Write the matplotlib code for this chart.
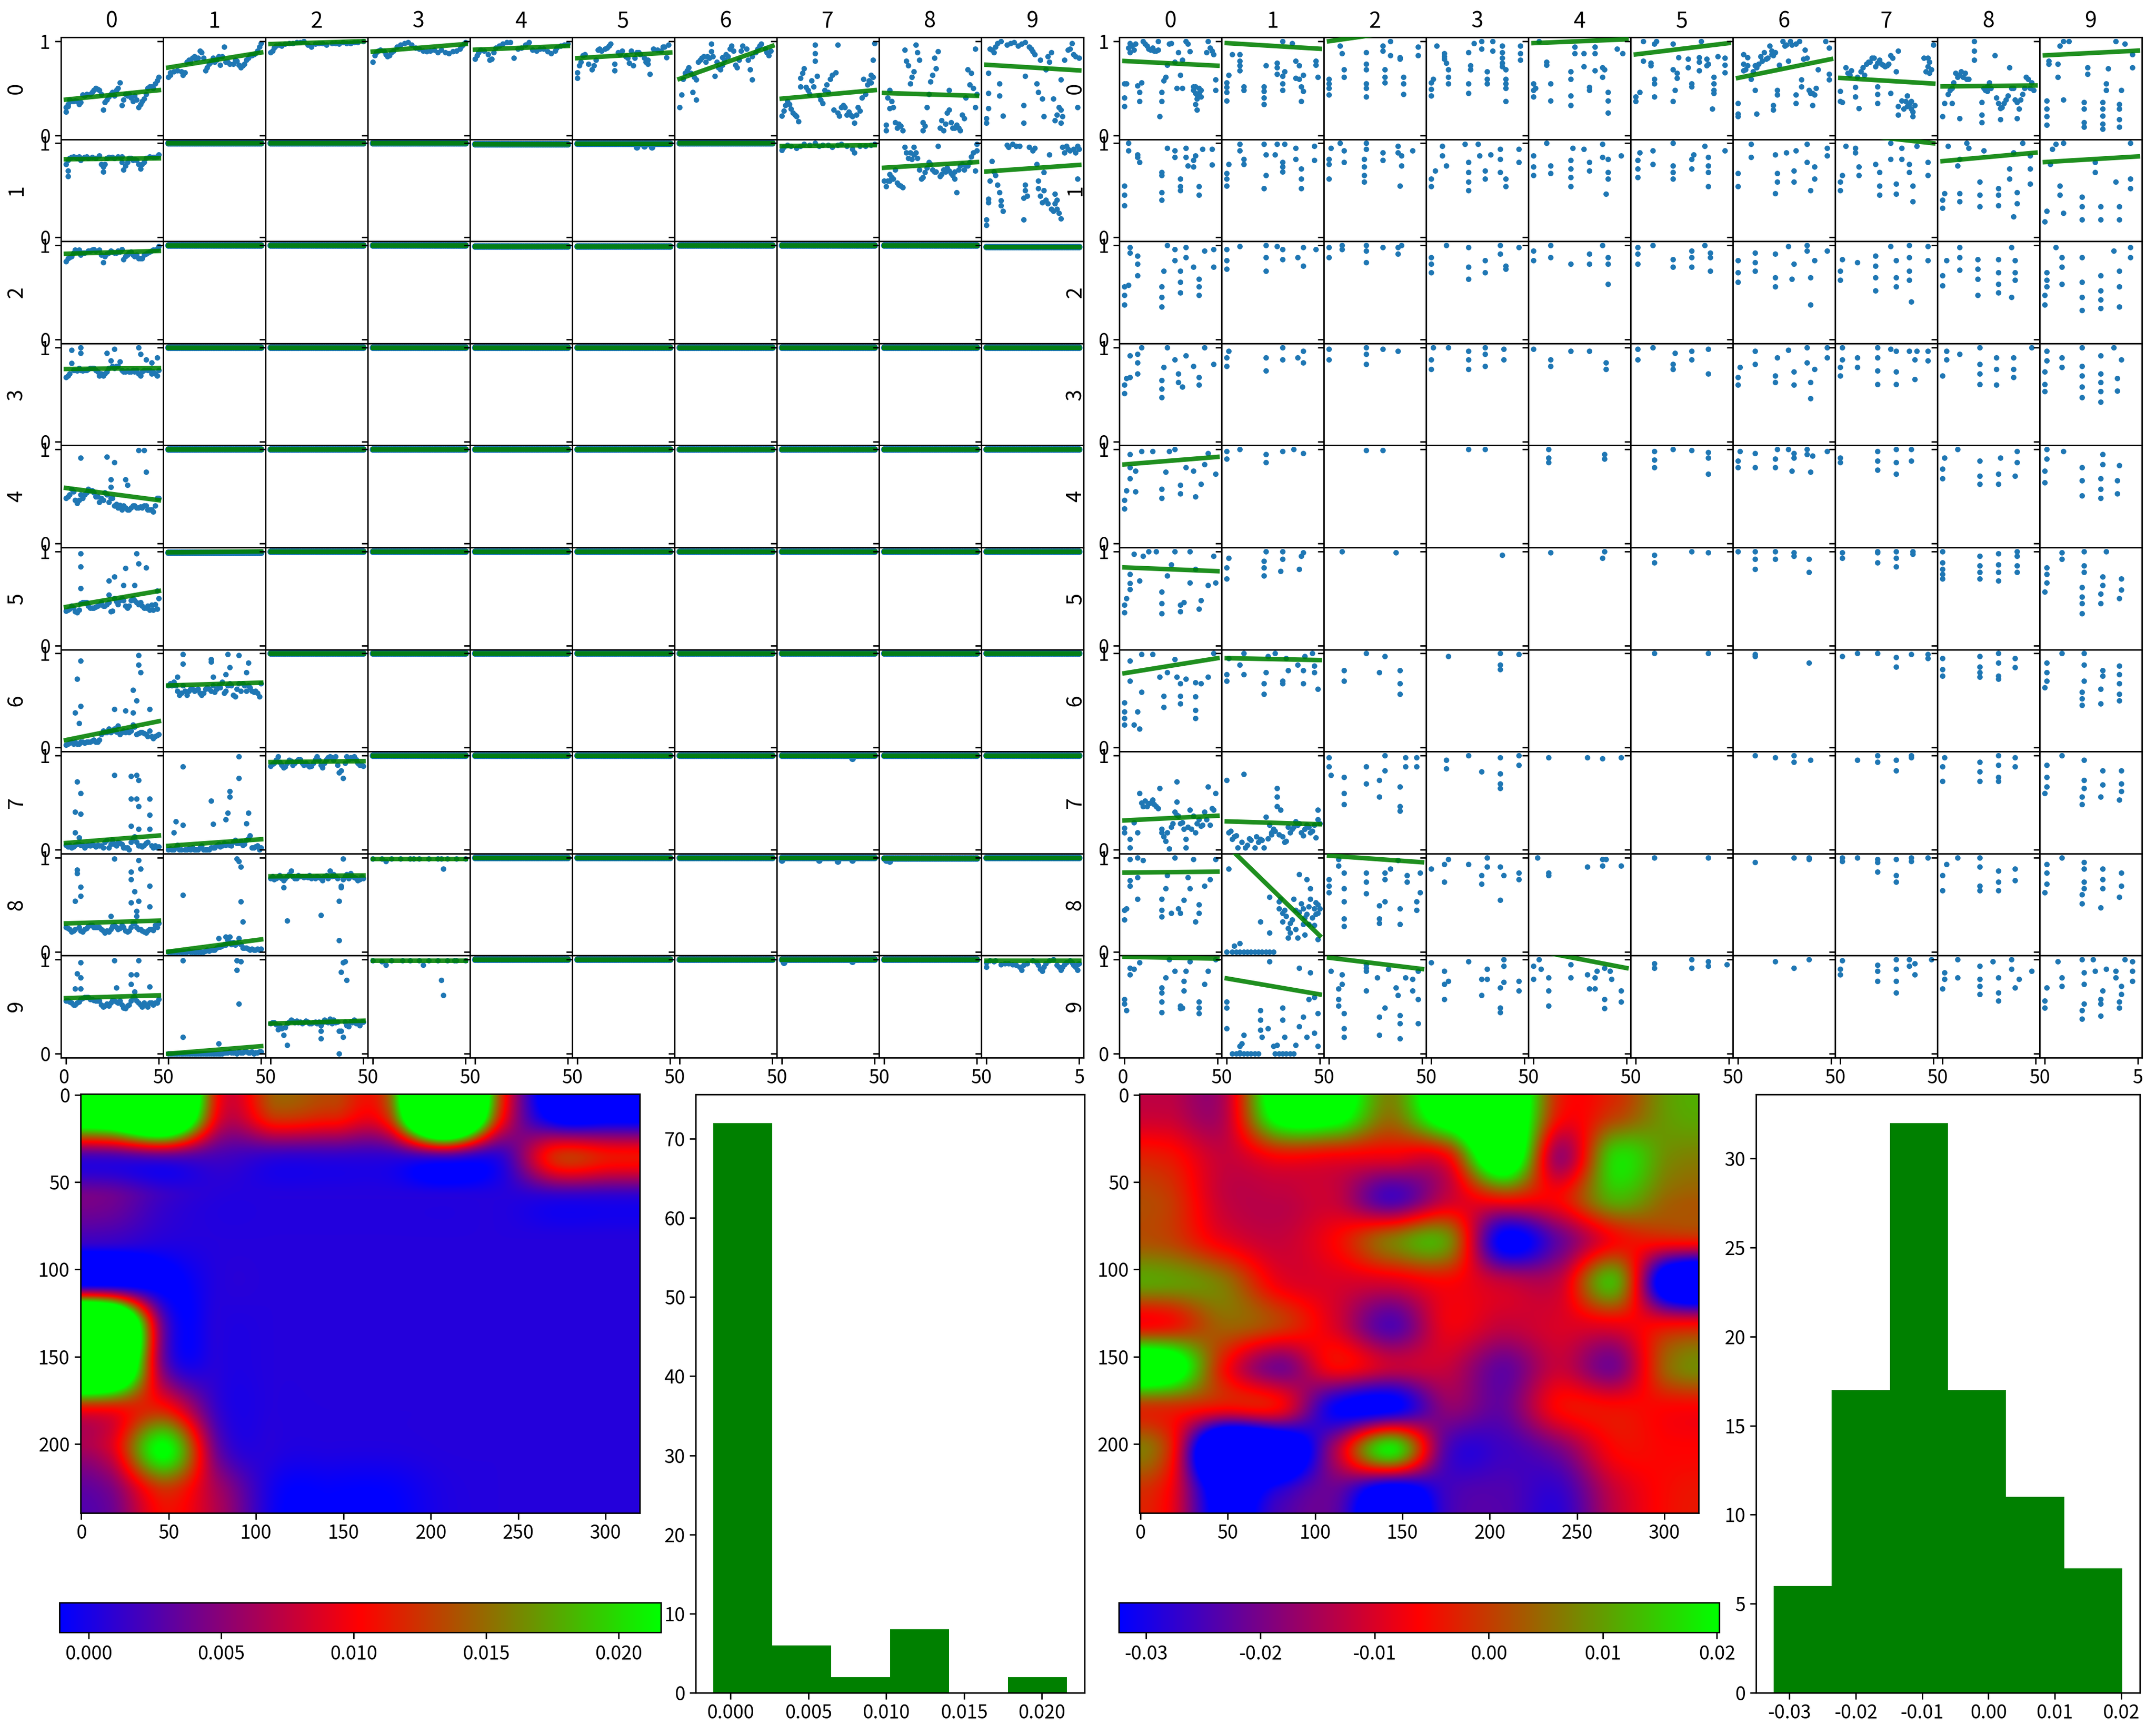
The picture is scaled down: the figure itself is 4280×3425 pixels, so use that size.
import numpy as np
import matplotlib
matplotlib.use('Agg')
import matplotlib.pyplot as plt
from matplotlib.transforms import ScaledTranslation

plt.rcParams['font.family'] = ['Noto Sans CJK JP', 'DejaVu Sans']

# scatter panels: flat x,y,x,y,... with y in percent
l00 = [0,25,0,30,1,33,3,36,5,37,8,35,9,43,13,44,17,49,19,44,20,27,21,35,24,44,27,48,29,56,30,32,33,42,37,42,40,33,42,39,45,52,48,55,50,62,
       1,31,2,38,4,36,6,36,7,33,10,42,11,44,14,46,15,48,16,50,18,48,22,38,23,41,25,46,26,42,28,50,31,38,32,44,34,44,35,40,36,36,38,38,39,30,41,36,43,44,44,50,46,52,47,50,49,58]
l01 = [0,62,1,67,5,69,9,67,11,80,15,81,18,88,20,69,22,76,26,80,30,94,28,75,32,78,37,79,40,74,43,82,47,87,50,98,
       1,64,3,68,7,68,8,64,10,78,12,78,13,82,14,84,16,82,17,90,19,82,21,72,23,78,24,82,25,78,27,84,29,84,31,78,33,76,35,76,36,80,38,75,39,72,41,76,42,80,44,85,45,85,46,86,48,90,49,94]
l02 = [0,88,2,93,8,97,14,99,18,100,22,94,28,98,33,98,41,98,50,100,1,90,3,95,5,96,6,95,10,98,12,98,16,99,20,96,24,97,26,98,30,96,35,98,37,97,39,99,43,98,45,99,47,99]
l03 = [0,78,1,85,4,91,9,85,13,94,19,99,23,93,29,89,37,91,41,87,47,92,50,99,2,88,3,90,6,90,7,86,8,84,10,88,11,90,15,96,17,98,21,96,25,92,27,90,31,90,33,91,35,88,39,88,43,89,45,90,48,95,49,97]
l04 = [0,81,3,91,9,81,13,95,19,99,21,82,29,99,31,91,41,87,46,95,50,97,1,85,2,88,5,90,7,86,8,80,10,88,11,93,15,97,17,99,23,92,25,93,27,96,33,90,35,92,37,92,39,89,43,90,44,93,48,96]
l05 = [0,61,0,67,1,74,3,85,8,70,9,74,11,91,15,92,18,97,20,69,20,76,24,90,28,77,29,90,30,74,33,88,38,76,39,65,38,80,43,91,49,96,48,83,
       2,78,4,86,6,76,10,80,12,92,13,90,16,93,17,95,22,88,23,86,26,84,27,82,31,82,32,88,34,86,36,82,37,78,41,92,45,90,46,94,47,94]
l06 = [0,30,1,43,2,60,4,69,7,46,9,38,9,59,12,82,17,97,17,89,23,83,19,63,23,75,28,95,30,75,34,95,38,70,39,59,39,84,43,95,48,85,
       3,66,5,72,6,66,8,62,10,78,11,80,13,84,14,78,15,84,16,82,18,84,20,78,21,72,22,70,24,80,25,86,26,84,27,92,29,90,31,72,32,80,33,90,36,92,37,80,41,88,42,92,44,97,46,92,47,88,49,90]
l07 = [0,21,3,36,4,33,8,20,9,15,12,71,10,61,13,51,18,96,18,87,18,79,19,63,22,34,24,54,30,96,29,67,28,27,31,21,34,30,38,20,39,13,41,30,44,60,46,54,49,80,50,98,48,64,
       1,26,2,32,5,28,6,24,7,22,10,52,11,66,14,48,15,44,16,58,17,52,20,42,21,38,23,48,25,46,26,60,27,64,30,24,32,30,33,32,35,22,36,25,37,22,40,22,42,26,43,40,45,44,47,58,48,56,49,62]
l08 = [1,5,1,11,8,12,10,5,3,29,3,48,11,91,17,96,12,79,16,68,14,55,21,5,21,14,23,30,25,57,29,89,28,71,31,16,32,5,35,27,35,48,39,11,41,5,43,18,45,70,46,54,49,30,49,92,
       2,40,4,36,5,30,6,14,7,8,9,10,13,74,15,62,18,88,19,80,22,10,24,44,26,64,27,82,30,8,33,12,34,24,36,14,37,8,38,8,40,8,42,22,44,40,47,66,48,50,50,44]
l09 = [0,13,0,18,1,29,1,45,1,66,3,91,9,21,7,55,7,42,11,96,17,95,25,89,20,13,20,32,21,63,27,55,28,46,31,20,30,39,33,84,40,13,36,39,40,27,40,59,44,91,49,30,48,84,
       2,92,4,88,5,94,6,98,8,100,13,98,15,99,19,97,21,99,23,94,24,92,26,86,29,80,32,70,34,78,35,88,37,16,38,22,39,30,41,20,42,80,45,92,46,98,47,86,50,82]
l10 = [0,78,1,71,1,65,3,85,7,86,12,84,18,87,20,70,21,78,25,85,30,86,31,72,33,80,37,83,40,73,42,80,47,85,50,88,
       1,82,2,84,4,86,5,85,6,84,8,82,9,84,10,85,11,86,14,85,16,84,19,78,20,75,22,84,23,85,26,84,28,86,29,85,30,80,32,76,34,84,35,84,36,82,38,82,39,78,41,78,43,84,45,86,48,85,49,86]
l17 = [0,93,1,96,3,98,8,95,12,99,18,100,22,98,27,96,32,99,38,94,39,90,45,97,50,99,5,97,10,97,15,98,20,97,25,98,30,98,35,97,42,97,48,98]
l18 = [1,54,0,60,8,56,10,53,3,67,6,72,11,96,16,96,15,83,14,90,20,62,22,69,25,78,29,97,31,67,35,71,38,62,39,48,44,76,49,71,48,90,50,99,
       2,60,3,60,4,64,5,62,7,58,9,55,12,90,13,84,16,88,17,90,18,84,19,72,21,64,23,74,24,80,26,72,27,70,28,70,30,65,32,72,33,70,34,74,36,68,37,66,38,70,40,72,41,76,42,78,43,72,45,76,46,80,47,86,50,92]
l19 = [0,13,0,19,1,37,9,28,8,39,6,56,3,81,11,98,16,97,20,19,20,42,21,56,25,92,30,37,28,60,31,69,38,40,37,46,40,20,34,88,44,94,49,62,49,97,
       1,41,2,60,4,70,5,66,7,48,8,34,12,96,14,99,18,97,21,50,22,44,23,96,26,95,27,78,28,52,29,44,31,50,32,40,33,36,35,30,36,28,37,36,38,30,39,26,41,96,42,90,43,97,45,92,47,94,48,90,50,94]
l20 = [0,83,1,86,3,88,7,95,9,92,15,96,20,82,21,88,25,93,30,96,31,85,35,93,40,86,42,90,47,95,50,99,
       2,87,4,92,5,95,6,93,8,90,10,92,12,94,13,94,14,95,16,94,18,95,19,90,22,91,23,92,24,94,26,92,27,92,28,94,29,93,32,88,33,90,34,92,36,90,37,88,38,90,39,86,41,86,43,91,44,92,45,93,46,94,48,95,49,96]
l30 = [3,97,8,100,8,94,22,94,26,98,24,86,39,100,40,93,43,87,46,84,49,89,0,68,3,83,6,75,9,75,13,78,20,70,29,85,32,74,37,74,40,70,47,74,
       1,70,2,72,4,76,5,76,7,78,8,76,10,76,11,76,12,77,14,78,15,78,16,76,17,74,18,70,19,72,21,72,22,74,23,78,25,80,26,78,27,80,28,80,30,76,31,74,33,75,34,74,35,74,36,76,38,76,39,72,41,74,42,76,44,76,45,76,46,72,48,72,49,70,50,76]
l40 = [8,91,22,92,26,86,39,99,42,99,43,76,24,68,24,60,32,68,33,62,0,48,3,58,6,43,9,48,12,58,20,46,25,48,29,41,34,36,40,39,45,36,49,48,
       1,50,2,52,4,55,5,46,7,46,8,52,10,52,11,54,13,56,14,56,15,54,16,50,17,50,18,44,19,48,21,54,22,52,23,44,24,48,26,40,27,42,28,38,30,36,31,40,32,38,33,36,35,38,36,40,37,40,38,38,39,38,41,38,42,40,43,40,44,36,46,36,47,34,48,40,50,48]
l50 = [8,98,8,84,8,61,23,69,26,73,32,82,38,98,39,87,43,83,23,54,31,64,37,64,0,37,6,35,9,46,14,40,20,42,25,37,29,48,34,42,40,46,46,43,49,39,49,58,
       1,38,2,39,3,42,4,40,5,36,7,38,8,45,10,46,11,46,12,42,13,40,15,40,16,41,17,42,18,43,19,46,21,42,22,44,23,46,24,36,26,50,27,47,28,44,30,50,31,48,32,42,33,40,35,48,36,50,37,48,38,46,39,44,41,42,42,40,43,40,44,42,45,38,47,38,48,44,50,50]
l60 = [8,92,6,73,8,44,5,37,7,26,39,98,39,88,40,80,36,61,38,50,26,41,32,39,36,37,45,41,0,3,3,6,9,6,17,6,21,16,28,23,33,18,40,16,45,18,49,13,
       1,4,2,5,4,4,5,6,6,4,7,4,8,6,10,5,11,6,12,6,13,6,14,7,15,8,16,6,18,8,19,14,20,18,22,16,23,20,24,16,25,18,26,20,27,17,29,14,30,16,31,18,32,16,34,16,35,18,36,24,37,22,38,14,39,15,41,16,42,15,43,14,44,12,46,12,47,10,48,12,50,14]
l61 = [8,99,8,89,23,94,23,91,32,99,38,98,43,90,31,78,33,85,42,80,24,75,5,75,0,66,6,56,10,56,15,61,25,59,35,56,40,68,46,59,49,54,50,68,
       1,68,2,66,3,70,4,66,5,60,7,58,8,66,9,60,11,60,12,62,13,62,14,60,16,62,17,58,18,56,19,58,20,62,21,64,22,62,23,60,24,66,26,62,27,66,28,64,29,70,30,58,31,60,32,66,33,68,34,66,36,54,37,62,38,68,39,60,41,66,42,60,43,66,44,64,45,60,47,60,48,58]
l70 = [6,72,8,60,5,40,8,38,5,18,7,13,26,79,35,78,38,79,39,74,35,54,38,54,39,46,45,54,45,37,35,25,45,22,39,22,0,5,3,2,9,5,17,5,23,2,29,7,34,0,42,5,49,2,
       1,3,2,5,4,3,5,5,6,6,7,6,8,5,10,2,11,4,12,5,13,4,14,6,15,5,16,3,18,4,19,4,20,2,21,8,22,10,24,6,25,10,26,6,27,4,28,8,30,6,31,2,32,2,33,2,35,8,36,12,37,14,38,8,39,4,40,4,41,3,43,7,44,8,46,4,47,2,48,4,50,3]
l71 = [8,88,38,99,38,76,33,62,33,56,23,52,32,39,31,32,43,39,42,28,24,27,4,30,3,18,8,26,0,0,7,0,14,0,20,0,25,2,31,5,38,7,44,15,50,2,
       1,1,2,0,3,0,4,2,5,5,6,0,9,0,10,0,11,1,12,0,13,2,15,0,16,0,17,2,18,4,19,0,21,0,22,0,23,2,24,2,26,4,27,6,28,3,29,4,30,7,32,6,33,5,34,4,35,8,36,10,37,7,39,9,40,5,41,6,42,10,43,12,45,2,46,2,47,3,48,4,49,0]
l72 = [0,89,4,99,7,87,15,96,22,89,25,99,28,87,32,99,35,99,39,76,41,99,45,99,50,89,
       1,91,2,92,3,95,5,93,6,90,8,88,9,92,10,95,11,94,12,90,13,92,14,94,16,96,17,92,18,90,19,92,20,90,21,88,23,92,24,96,26,95,27,90,29,92,30,96,31,98,33,98,34,95,36,90,37,82,38,84,40,92,42,96,43,98,44,97,46,96,47,92,48,90,49,90]
l80 = [6,87,6,83,8,69,8,59,5,54,26,99,39,97,35,85,35,77,40,88,37,64,39,54,35,52,45,70,45,48,24,38,38,43,38,38,0,26,3,21,9,21,16,26,23,21,33,21,42,21,49,26,
       1,25,2,24,4,22,5,24,7,26,8,22,10,24,11,25,12,27,13,28,14,28,15,26,17,26,18,26,19,24,20,22,21,20,22,22,24,24,25,27,26,28,27,26,28,24,29,25,30,28,31,26,32,22,34,22,35,26,36,30,37,30,38,26,39,24,40,24,41,22,43,20,44,22,45,24,46,24,47,23,48,28,50,30]
l81 = [37,99,38,96,39,90,8,60,39,53,40,32,27,14,31,16,33,16,0,0,11,1,23,2,28,5,37,9,42,4,50,3,
       1,0,2,0,3,0,4,0,5,0,6,0,7,0,8,0,9,0,10,0,12,0,13,0,14,0,15,0,16,0,17,0,18,0,19,0,20,1,21,2,22,1,24,2,25,2,26,4,27,5,29,6,30,8,31,7,32,12,33,10,34,8,35,10,36,7,38,14,39,8,40,4,41,4,43,3,44,2,45,3,46,2,47,2,48,3,49,2]
l82 = [0,78,7,68,9,33,11,86,27,39,37,54,37,12,38,68,39,99,14,78,22,78,32,86,43,83,50,78,
       1,80,2,77,3,78,4,79,5,81,6,78,7,76,8,78,9,80,10,82,12,80,13,78,15,81,16,80,17,80,18,79,19,80,20,79,21,81,23,79,24,78,25,80,26,79,27,78,28,76,29,80,30,81,31,78,33,80,34,82,35,80,36,78,38,70,39,77,40,80,41,82,42,78,44,80,45,79,46,78,47,76,48,77,49,80]
l83 = [7,96,38,88,22,99,37,99,0,99,5,99,10,99,15,99,20,99,25,99,30,99,35,99,40,99,45,99,50,99]
l90 = [8,97,6,85,8,81,5,69,8,69,26,99,27,70,39,99,35,84,38,84,35,74,45,71,37,66,0,56,3,54,9,59,16,56,23,51,29,56,33,51,42,54,49,54,
       1,56,2,55,4,52,5,52,6,54,7,55,8,58,10,60,11,60,12,60,13,58,14,58,15,57,17,56,18,56,19,52,20,50,21,51,22,53,24,54,25,57,26,56,27,55,28,54,30,52,31,49,32,48,34,52,35,56,36,60,37,60,38,56,39,54,40,52,41,50,43,52,44,50,45,54,46,54,47,52,48,54,50,58]
l91 = [8,99,37,99,39,98,37,89,38,53,8,18,27,11,0,0,11,0,25,0,37,0,46,0,50,2,
       1,0,2,0,3,0,4,0,5,0,6,0,7,0,8,0,9,0,10,0,12,0,13,0,14,0,15,0,16,0,17,0,18,0,19,0,20,0,21,0,22,0,23,0,24,0,26,0,27,0,28,0,29,0,30,1,31,1,32,1,33,2,34,1,35,1,36,1,38,2,39,1,40,1,41,2,42,2,43,1,44,1,45,2,47,1,48,1,49,2]
l92 = [39,97,40,98,38,87,41,78,9,9,6,27,27,24,27,16,37,0,38,24,0,32,15,33,22,32,32,37,42,29,50,34,
       1,33,2,33,3,31,4,26,5,30,7,20,8,28,9,32,10,34,11,36,12,35,13,33,14,35,16,34,17,32,18,33,19,35,20,34,21,32,23,33,24,34,25,32,26,34,27,30,28,33,29,36,30,34,31,33,33,32,34,36,35,33,36,34,37,24,39,18,40,34,41,30,43,34,44,33,45,36,46,32,47,33,48,30,49,34]
l93 = [7,94,27,94,37,78,38,62,16,99,44,99,0,99,5,98,10,99,20,99,25,99,30,99,35,99,40,99,45,99,50,99]
l99 = [0,92,0,97,5,99,8,95,14,95,19,89,22,96,25,99,30,88,32,96,36,100,40,89,43,97,49,89,49,95,2,99,4,98,10,96,12,96,16,94,18,92,20,94,27,97,28,94,29,90,31,92,34,99,38,94,39,92,41,92,42,95,45,99,46,97,47,94,48,92,50,96]

r00 = [0,31,0,40,0,55,1,55,2,93,3,98,3,88,5,91,7,53,8,46,8,36,9,56,10,100,11,97,14,91,16,90,18,91,18,100,19,20,20,46,20,36,21,58,22,62,24,97,25,98,23,75,27,78,31,80,30,64,31,50,28,50,29,88,34,97,35,89,37,48,39,39,38,45,40,50,41,41,39,27,44,88,45,100,48,86,49,59,49,48,
       4,95,6,97,12,95,13,92,15,93,17,90,37,52,38,52,39,43,40,45,41,48,38,33,33,100,46,93,47,90]
r01 = [0,56,0,51,0,46,0,37,1,64,3,86,7,86,7,79,7,74,7,69,9,52,9,48,20,52,20,47,20,40,20,33,21,74,27,77,27,72,27,65,30,63,30,55,30,48,31,68,37,79,39,74,37,61,41,64,39,60,40,52,41,47,40,36,48,79,48,75,49,62,30,100,35,98]
r02 = [0,60,0,55,0,50,0,43,6,95,7,87,8,70,8,62,20,88,20,76,20,70,20,55,20,50,20,41,29,95,29,90,30,70,30,62,30,56,33,100,33,85,38,83,38,81,40,62,40,55,40,44,48,94,48,85]
r03 = [0,56,0,49,0,42,1,60,3,95,7,87,7,84,7,81,8,77,9,70,9,62,9,55,20,88,21,74,21,70,20,55,20,45,23,98,27,92,27,100,30,68,30,60,30,55,33,100,33,90,38,95,38,88,38,82,38,77,38,73,40,70,40,60,40,55,40,50,40,36,48,95,48,87,48,80]
r04 = [0,41,0,48,0,55,1,50,3,100,7,78,7,75,9,55,9,37,22,94,22,87,20,68,20,60,20,42,20,32,27,87,27,73,30,51,30,48,33,94,33,87,33,69,37,72,37,62,38,70,40,46,40,37,40,24,45,92,48,87]
r05 = [0,36,0,41,2,46,4,100,4,79,8,77,8,74,10,60,10,55,10,41,10,97,11,100,20,97,23,83,28,81,20,70,22,66,22,61,21,48,20,36,28,72,30,55,30,52,34,83,34,78,34,69,35,100,38,81,38,74,39,76,42,62,42,55,42,48,42,45,41,28,44,84,48,82,48,75,48,67]
r06 = [0,20,0,23,0,34,10,23,9,48,3,86,3,76,5,83,3,69,7,60,10,72,13,79,15,81,18,90,18,86,24,100,28,100,31,97,19,32,19,27,21,48,21,43,27,79,31,43,31,34,34,59,34,52,36,91,35,81,38,48,41,43,40,32,43,70,47,100,49,93,49,65,49,59,
       4,70,5,74,8,68,9,74,11,76,12,84,14,88,16,82,17,95,19,85,20,88,22,75,25,95,26,96,29,96,33,100,37,82,39,45,40,45,42,50]
r07 = [0,47,0,36,1,35,3,72,6,69,8,51,8,41,10,29,13,64,17,82,20,77,27,85,31,90,20,52,20,44,20,34,19,73,24,73,27,45,31,31,31,22,33,37,36,42,36,31,39,20,38,36,45,82,47,73,48,66,50,96,
       4,66,5,64,9,62,11,68,12,72,14,76,15,78,16,78,18,82,21,80,22,76,23,75,25,74,26,76,28,82,30,68,34,28,35,36,37,33,38,28,39,25,40,32,46,68,47,82,48,78,49,70]
r08 = [0,20,1,34,9,18,3,44,5,34,7,66,11,62,14,60,17,100,17,90,17,80,28,85,21,35,21,22,21,14,24,52,24,47,31,29,31,17,34,38,36,72,38,50,40,35,40,18,42,38,48,56,45,62,
       4,48,5,50,6,56,8,62,9,64,10,68,12,66,13,60,22,50,23,48,25,56,26,50,29,40,30,34,32,30,33,34,35,42,37,50,39,38,41,28,43,44,44,50,46,60,47,50,49,48]
r09 = [1,37,1,28,1,20,1,11,10,38,2,79,2,76,7,76,7,62,10,100,13,100,8,95,21,35,21,28,21,14,21,9,23,72,23,65,31,35,31,28,31,21,31,12,31,7,33,55,33,48,34,71,40,33,40,28,40,17,40,9,41,48,38,100,43,97,47,72,47,86]
r10 = [0,34,0,45,0,55,2,100,2,92,7,88,8,80,7,85,20,40,20,48,20,66,20,69,23,95,27,92,27,85,30,54,30,50,30,62,33,95,33,85,34,76,40,54,40,45,37,75,37,82,38,87,42,94,47,94,47,77]
r11 = [0,55,0,62,0,68,1,78,7,99,7,92,9,83,9,78,20,99,20,52,21,66,21,88,27,99,31,99,26,88,30,80,30,75,30,70,37,95,37,83,40,73,40,62,40,52,47,97,47,82]
r12 = [0,83,0,78,0,62,1,95,6,100,8,92,8,80,20,100,20,94,19,83,19,75,19,66,19,59,29,90,29,82,37,97,37,90,39,87,39,76,38,55,45,92]
r13 = [0,62,0,54,2,71,6,97,6,87,8,76,18,99,25,99,26,87,20,80,20,69,20,59,20,50,29,71,29,62,32,88,37,94,37,83,37,69,40,62,40,54,47,94,47,80]
r14 = [0,66,0,87,0,75,7,100,9,76,9,68,21,95,20,82,20,73,20,64,20,54,27,94,30,80,30,71,37,99,37,85,40,83,40,69,40,62,39,46,47,87]
r15 = [1,64,1,73,1,82,2,90,9,92,9,78,20,100,20,62,20,76,20,69,30,83,30,73,31,88,37,97,39,85,39,76,39,69,39,54,48,92]
r16 = [0,54,0,68,7,99,7,85,20,88,21,68,21,59,20,47,26,90,31,92,30,71,30,59,37,99,37,80,41,75,41,62,39,50,48,95,48,87]
r17 = [3,97,8,95,8,90,0,50,0,59,1,66,10,75,10,66,19,78,21,69,21,55,21,45,27,100,27,83,33,83,33,95,30,57,30,46,37,78,37,69,39,55,39,38,41,97,47,80,47,66]
r18 = [0,31,0,40,1,47,9,47,9,38,3,97,8,76,9,83,13,100,14,95,22,92,20,59,20,45,20,33,30,52,30,45,30,34,36,73,36,62,38,90,40,48,40,36,38,22,43,100,47,87,47,73,47,57]
r19 = [0,17,1,28,4,94,6,99,8,55,8,45,10,26,3,78,10,100,20,43,20,33,20,19,30,33,30,19,27,80,27,69,40,33,40,19,38,59,46,100,46,62,46,52]
r20 = [0,37,0,47,0,56,2,58,3,98,3,92,7,89,7,80,7,68,20,35,20,45,20,56,21,73,23,100,27,96,27,84,30,73,30,61,30,50,33,98,33,87,37,77,40,64,40,47,40,56,43,94,48,96,48,77]
r21 = [0,75,0,84,0,96,7,99,21,73,21,87,21,100,27,99,30,96,30,85,38,87,41,98,41,78,48,96]
r22 = [0,87,0,98,7,100,7,96,20,82,20,100,20,94,29,98,37,91,37,98,39,100]
r23 = [0,71,0,80,0,87,8,100,20,64,20,77,20,98,29,71,29,84,37,91,37,100,40,78,40,75,47,98]
r24 = [0,84,0,94,9,100,9,87,20,80,30,80,30,91,37,100,40,87,40,80,40,59]
r25 = [1,80,1,91,1,98,9,100,20,77,20,85,30,77,30,87,30,94,37,100,40,73,40,87,40,92]
r26 = [0,61,0,71,0,84,9,92,9,82,9,73,20,91,20,56,20,66,27,99,29,64,30,80,37,100,37,94,39,66,39,37,41,84,48,94]
r27 = [0,63,0,73,1,85,9,82,19,89,19,78,19,66,19,52,27,99,30,84,30,66,30,56,37,100,37,87,37,73,37,63,38,40,47,99,47,84]
r28 = [0,57,0,68,2,84,9,98,9,87,9,74,19,85,19,75,19,64,19,47,30,85,30,71,30,59,30,50,37,98,37,45,39,84,39,71,39,63]
r29 = [0,37,0,47,1,71,1,63,1,56,6,98,9,87,9,77,9,59,20,87,20,61,20,45,20,31,30,68,30,52,30,42,30,33,37,94,40,73,40,56,40,35,46,98,46,87]
r30 = [0,51,0,60,1,67,3,68,3,91,9,100,7,93,7,84,7,72,20,47,20,56,20,65,21,79,27,87,23,100,29,63,29,72,31,58,33,91,37,80,40,60,40,68,43,100,48,82]
r31 = [0,80,0,89,1,96,21,75,21,89,30,87,30,100,38,89,41,84,41,96]
r32 = [0,87,0,98,20,82,20,93,20,100,29,98,37,96]
r33 = [0,77,0,87,1,100,9,100,20,77,20,87,20,96,29,80,29,93,29,100,39,87,39,98]
r34 = [0,98,9,80,9,87,20,96,30,96,39,77,39,84]
r35 = [1,87,1,98,9,100,20,77,20,82,21,94,30,96,30,87,39,72,39,98]
r36 = [0,60,0,68,1,79,9,82,9,96,20,63,20,70,21,89,27,97,30,60,30,74,37,100,37,84,39,63,39,46,41,77,48,89,48,100]
r37 = [0,70,0,79,1,87,1,100,9,89,9,79,20,61,20,75,20,89,20,100,30,61,30,74,30,96,27,98,37,96,40,87,40,66,41,96,47,96,47,86]
r38 = [0,70,2,87,2,96,9,93,20,61,20,72,20,82,20,100,29,60,29,77,29,89,38,68,38,77,38,89,48,100]
r39 = [0,53,0,61,0,74,1,86,1,96,9,79,9,89,20,47,20,58,20,70,20,80,20,100,30,42,30,53,30,63,30,72,30,91,39,54,39,67,37,100,41,87]
r40 = [0,37,0,46,1,56,3,69,3,81,3,95,6,77,9,98,15,98,6,55,20,48,20,58,22,76,24,98,27,100,30,53,30,62,33,81,38,50,41,63,37,77,43,84,49,74,45,96]
r41 = [0,90,0,98,7,100,21,86,21,95,30,98,36,100,41,96]
r42 = [20,99,29,99]
r43 = [20,100,29,100]
r44 = [8,100,8,91,8,86,38,95,38,90]
r45 = [10,98,10,89,10,81,20,100,30,99,39,97,39,91,39,74]
r46 = [0,81,0,88,1,98,9,96,9,81,20,81,20,90,21,100,27,100,29,77,30,96,30,91,37,95,37,100,39,76,40,93,48,98]
r47 = [0,86,0,91,20,98,20,88,20,78,30,100,30,86,30,74,38,100,38,88]
r48 = [0,69,0,79,1,91,8,100,20,88,20,72,20,63,30,63,30,74,31,91,39,72,40,98,40,86]
r49 = [0,65,0,77,1,100,1,90,10,98,20,81,20,67,20,51,31,95,31,84,30,69,30,58,30,48,40,83,39,67,39,53]
r50 = [0,35,0,43,1,50,3,76,3,66,3,60,8,69,5,97,10,95,13,100,17,100,20,34,20,45,20,57,23,74,27,100,25,86,30,43,30,36,32,46,35,67,35,100,40,39,41,48,45,64,38,81,48,95,49,67]
r51 = [0,71,0,83,1,93,20,74,20,83,20,90,21,100,29,79,30,92,30,100,39,81,40,95,41,99]
r52 = [7,100,36,99]
r53 = [38,96]
r54 = [9,99,37,93,38,100]
r55 = [10,96,10,88,30,100,39,99]
r56 = [0,100,9,100,9,92,9,81,20,100,20,92,30,99,30,95,38,92,38,78]
r57 = [1,99,1,93,20,100,20,99,20,88,30,100,30,93,30,84,39,100,39,97]
r58 = [0,71,0,76,0,81,0,88,0,100,20,71,20,78,20,85,20,95,30,69,30,78,30,86,30,98,40,78,40,85,40,95,40,100]
r59 = [0,57,1,67,1,76,1,83,9,92,9,99,20,34,20,45,20,52,20,62,21,78,21,85,21,100,30,45,30,55,31,64,31,73,33,100,40,50,41,71,41,59]
r60 = [0,24,0,31,0,38,0,48,5,24,8,20,7,38,9,59,3,71,3,92,9,99,15,99,19,75,21,55,21,43,23,80,27,94,28,75,30,68,30,55,30,47,33,73,38,31,38,40,38,69,38,54,41,68,45,75,48,100]
r61 = [0,71,0,78,1,95,7,88,9,78,9,100,20,57,20,68,21,80,22,97,30,68,30,71,33,82,32,95,26,100,38,88,41,82,41,68,42,97,47,87,47,80,49,62,46,100]
r62 = [8,82,8,71,20,100,27,80,30,97,38,82,38,68,38,57]
r63 = [9,97,37,100,37,88,37,83,47,99]
r65 = [10,100,39,100]
r66 = [9,99,9,97,38,90]
r67 = [1,97,9,100,20,100,30,96,30,86,38,99,47,99,47,95]
r68 = [0,76,0,83,0,95,20,75,20,80,20,86,20,97,30,73,30,76,30,90,30,100,39,85,39,95]
r69 = [0,64,1,71,1,90,1,80,9,100,20,45,20,52,20,59,21,71,21,88,21,100,30,47,30,62,31,82,31,76,40,50,40,57,40,68,40,78,40,87]
r70 = [0,23,0,18,3,11,3,2,8,60,10,46,13,49,15,53,19,65,17,46,5,29,7,18,20,22,20,18,22,9,28,72,28,51,28,37,33,11,33,2,31,29,35,42,38,18,41,25,45,67,49,60,48,42,24,1,
       9,50,11,52,12,46,14,50,16,48,18,44,21,14,23,18,25,24,26,28,27,40,29,36,30,28,32,22,34,24,36,22,37,36,39,28,40,32,42,26,43,40,44,32,46,26,47,44]
r71 = [0,74,9,80,1,18,3,11,6,2,10,2,15,2,20,2,5,15,11,5,18,11,27,65,27,56,27,46,29,42,21,35,24,16,24,18,32,9,35,22,41,15,45,18,49,42,49,32,48,13,
       2,20,4,14,8,8,12,12,13,10,16,14,17,8,19,10,22,12,23,26,25,22,26,20,28,16,30,14,31,8,33,24,34,18,36,24,37,30,38,26,39,28,40,18,42,22,43,26,44,24,46,20,47,26,50,28]
r72 = [0,98,0,88,1,79,8,77,8,60,8,48,20,88,20,70,27,74,27,56,30,100,30,84,38,67,38,46,38,41,41,98,41,88,47,98,47,88]
r73 = [8,95,8,86,20,100,27,83,37,98,37,81,37,70,37,65,47,90,47,100]
r74 = [8,98,29,98,37,97,47,98]
r76 = [9,100,20,98,30,100,30,93,39,95]
r77 = [9,95,20,100,20,93,30,95,30,84,38,100,38,98]
r78 = [0,73,0,88,1,98,20,73,20,83,20,93,30,73,30,77,30,90,30,100,39,88,39,98]
r79 = [0,60,1,67,1,77,1,90,9,100,20,48,20,56,21,65,21,74,21,95,30,56,31,69,31,84,40,53,41,62,41,70,41,84]
r80 = [0,34,0,44,1,46,3,70,3,76,7,56,7,79,3,98,10,97,7,100,20,37,20,44,20,56,22,67,23,81,27,100,25,41,29,46,30,41,32,55,35,67,34,79,38,32,40,50,40,41,37,98,43,70,46,77,49,98]
r81 = [1,88,4,6,7,9,0,0,3,0,5,0,7,0,9,0,11,0,13,0,15,0,17,0,19,0,21,0,23,0,25,0,23,20,18,32,39,82,43,77,45,67,23,58,28,53,28,46,29,56,30,41,30,32,33,25,33,15,38,15,36,56,40,51,39,42,41,29,45,56,47,46,49,41,44,29,49,13,
       31,44,32,38,34,30,34,20,35,34,37,24,37,44,41,46,42,36,42,18,43,40,44,48,46,36,47,28,48,52,48,40,49,50,50,46]
r82 = [0,63,0,77,0,70,5,98,5,91,8,84,8,67,8,53,8,27,8,35,20,84,20,74,20,62,27,49,27,35,27,30,30,84,30,77,33,88,30,53,38,46,38,29,42,81,42,74,37,97,47,53,47,44,49,63,49,84]
r83 = [0,88,7,93,7,74,9,98,20,93,27,81,27,72,30,100,30,90,37,90,37,55,39,81,47,84,47,77]
r84 = [8,84,8,81,2,100,29,90,37,98,37,91,39,98,47,91]
r85 = [10,100,39,100]
r86 = [9,95,30,100,38,100,38,98]
r87 = [1,96,1,100,9,100,20,98,20,95,20,85,30,81,30,74,30,98,38,100,38,96,47,100]
r88 = [0,65,0,81,2,93,8,100,20,65,20,70,20,90,20,100,30,65,30,74,30,86,39,76,39,88]
r89 = [0,63,1,72,1,84,1,93,9,100,20,51,20,61,21,67,21,74,21,88,21,95,30,47,31,67,31,77,31,88,40,58,41,70,41,84]
r90 = [0,53,0,58,1,46,3,84,3,91,5,90,8,97,20,44,20,55,20,65,20,70,22,81,24,100,27,88,30,51,30,48,31,49,32,67,32,77,33,88,35,98,40,55,40,49,40,43,43,74,45,88,49,100]
r91 = [0,55,0,49,0,27,7,1,7,8,9,20,8,11,3,0,5,0,7,0,9,0,11,0,13,0,15,0,17,0,26,0,28,0,30,0,32,0,34,0,36,0,23,98,18,25,18,36,18,46,22,27,19,18,25,8,27,9,30,49,30,36,31,18,39,91,45,86,41,39,39,29,37,9,43,18,44,58,47,60,49,43,47,22,49,8]
r92 = [1,88,7,84,7,74,5,69,5,58,5,51,8,43,8,27,8,18,20,67,20,88,20,91,20,95,26,81,27,39,27,20,30,49,32,90,36,70,37,62,38,41,38,32,38,16,41,81,45,79,45,67,48,58,48,32,48,88]
r93 = [0,97,7,74,7,58,7,88,9,77,20,98,27,79,27,62,30,90,30,79,37,49,37,44,37,70,39,93,39,76,47,77,47,67,39,100]
r94 = [0,93,3,100,0,79,4,90,8,81,8,67,8,51,20,95,20,81,29,84,30,69,33,81,33,69,34,88,38,58,38,48,41,88,42,79,38,91,47,67,47,55]
r95 = [10,96,10,91,30,100,30,91,39,98,39,93,49,95]
r96 = [20,98,30,91,38,100]
r97 = [0,84,0,90,1,99,20,77,20,88,20,94,30,65,30,77,30,90,30,100,37,100,37,93,40,84,40,96,49,100]
r98 = [0,69,1,79,1,86,8,100,8,81,20,63,20,72,20,79,20,93,30,56,30,65,30,81,27,98,37,90,39,70,41,79,37,100,48,88]
r99 = [0,49,0,56,1,70,7,98,9,81,9,72,20,37,20,46,21,53,21,74,21,86,20,100,30,40,30,53,30,58,31,67,27,88,33,90,26,100,40,49,40,55,41,72,41,63,38,88,38,81,43,100,47,98,47,88,47,77]

# fit lines in percent, value at x=0 and x=50
left_fit0 = [[38,72,97,89,91,82,60,39,45,75],
             [83,100,100,100,99,99.5,100,97,74,70],
             [91,100,100,100,99,99,100,100,100,98.5],
             [77,100,100,100,100,100,100,100,100,100],
             [59,100,100,100,100,100,100,100,100,100],
             [41,99,100,100,100,100,100,100,100,100],
             [8,66,100,100,100,100,100,100,100,100],
             [7,4,93,100,100,100,100,100,100,100],
             [30,0,80,99,100,100,100,100,99.5,100],
             [59,0,32,99,100,100,100,100,100,99]]
left_fit1 = [[48,88,100,97,95,88,95,48,42,69],
             [84,100,100,100,99,99.5,100,98,80,77],
             [94,100,100,100,99,99,100,100,100,98.5],
             [78,100,100,100,100,100,100,100,100,100],
             [46,100,100,100,100,100,100,100,100,100],
             [58,100,100,100,100,100,100,100,100,100],
             [28,69,100,100,100,100,100,100,100,100],
             [15,11,94,100,100,100,100,100,100,100],
             [33,13,81,99,100,100,100,100,99.5,100],
             [62,8,35,99,100,100,100,100,100,99]]
right_fits = {(0,0):(79,74),(0,1):(98,92),(0,2):(100,114),(0,4):(98,102),(0,5):(86,98),
              (0,6):(61,81),(0,7):(61,55),(0,8):(52,53),(0,9):(85,90),
              (1,7):(111,100),(1,8):(81,90),(1,9):(80,86),(4,0):(84,92),(5,0):(83,79),
              (6,0):(79,95),(6,1):(95,93),(7,0):(31,36),(7,1):(30,27),(8,0):(84,85),
              (8,1):(113,17),(8,2):(102,95),(9,0):(103,101),(9,1):(80,63),(9,2):(102,90),
              (9,4):(110,91)}
flat_x = [0,1,2,3,4,5,6,7,8,9,10,11,12,13,14,15,16,17,18,19,20,21,22,23,24,25,26,27,28,29,30,31,32,33,34,35,36,37,38,39,40,41,42,43,44,45,46,47,48,49,50]
# small dips below the flat bands: row, col, x, y
left_dips = [(7,7,38,97),(8,7,0,97),(8,7,20,97),(8,7,30,96),(8,7,38,97),(8,8,1,97),(8,8,3,96),
             (9,7,1,97),(9,7,38,98),(1,5,32,96),(1,5,36,97),(1,5,40,96)]

left_grid = [[.03,.04,.009,.013,.012,.013,.05,.012,-.003,-.003],
             [.002,.003,.002,.001,.001,.001,.002,.001,.012,.011],
             [.004,.0015,.0005,.0005,.0005,.0005,.0005,.0005,.0005,.0005],
             [.0015,.0005,.0005,.0005,.0005,.0005,.0005,.0005,.0005,.0005],
             [-.003,-.002,.0005,.0005,.0005,.0005,.0005,.0005,.0005,.0005],
             [.045,.003,.0005,.0005,.0005,.0005,.0005,.0005,.0005,.0005],
             [.04,.004,.0005,.0005,.0005,.0005,.0005,.0005,.0005,.0005],
             [.011,.011,.001,.0005,.0005,.0005,.0005,.0005,.0005,.0005],
             [.008,.022,.003,.0005,.0003,.0003,.0005,.0005,.0005,.0005],
             [.004,.012,.006,-.0005,-.001,-.001,.0002,.0005,.0005,.0005]]
right_grid = [[-.012,-.014,.025,.025,.006,.03,.04,-.004,0,.01],
              [-.004,-.012,-.006,-.007,-.008,-.006,.035,-.016,.016,.008],
              [0,-.012,-.013,-.012,-.025,-.012,-.004,-.006,.012,.004],
              [.001,-.008,-.012,-.006,.006,.009,-.034,-.022,-.006,-.004],
              [.01,.006,-.008,-.01,-.01,-.006,-.012,-.012,.012,-.045],
              [-.005,.004,0,-.01,-.024,-.008,-.012,-.01,-.008,-.006],
              [.03,-.004,-.02,-.006,-.012,-.012,-.022,-.012,-.02,.005],
              [-.002,-.006,-.007,-.032,-.034,-.018,-.022,-.006,-.005,-.006],
              [-.001,-.06,-.05,-.015,.018,-.024,-.026,-.02,-.006,-.006],
              [-.006,-.04,-.028,-.022,-.04,-.026,-.024,-.027,-.012,-.005]]
left_range = (-.0011, .0216)
right_range = (-.0324, .0202)
left_counts = [72,6,2,8,0,2]
right_counts = [6,17,32,17,11,7]
left_hist_ticks = [0,.005,.01,.015,.02]
right_hist_ticks = [-.03,-.02,-.01,0,.01,.02]
left_count_ticks = [0,10,20,30,40,50,60,70]
right_count_ticks = [0,5,10,15,20,25,30]

W, H = 4280, 3425
fig = plt.figure(figsize=(W/100, H/100), dpi=100)


def box(x0, y0, x1, y1):
    return fig.add_axes([x0/W, 1-y1/H, (x1-x0)/W, (y1-y0)/H])


def style(ax):
    for s in ax.spines.values():
        s.set_linewidth(2)
    ax.tick_params(length=9, width=2, labelsize=27, pad=6)


def matrix(x0, prefix, fit_at):
    for r in range(10):
        for c in range(10):
            ax = box(x0+c*203, 74+r*202.6, x0+(c+1)*203, 74+(r+1)*202.6)
            style(ax)
            pts = globals().get(f'{prefix}{r}{c}')
            fit = fit_at(r, c)
            if pts is not None:
                xs, ys = np.array(pts[::2]), np.array(pts[1::2])/100
                ax.scatter(xs, ys, s=62, color='tab:blue', linewidths=0, zorder=2)
            elif prefix == 'l':
                xs = list(flat_x) + [d[2] for d in left_dips if d[:2] == (r, c)]
                ys = [fit[0]/100]*len(flat_x) + [d[3]/100 for d in left_dips if d[:2] == (r, c)]
                ax.scatter(xs, ys, s=90, color='tab:blue', linewidths=0, zorder=2)
            if fit is not None:
                ax.plot([0, 50], [fit[0]/100, fit[1]/100], color='green', lw=6.5, alpha=.88, zorder=3)
            ax.set_xlim(-2.8, 52.2)
            ax.set_ylim(-.042, 1.042)
            ax.set_yticks([0, 1])
            ax.set_xticks([0, 50] if r == 9 else [])
            if c == 0:
                ax.set_yticklabels(['0', '1'])
                ax.set_ylabel(str(r), fontsize=30)
                ax.yaxis.set_label_coords(-.33, .5)
            else:
                ax.set_yticklabels([])
            if r == 0:
                ax.set_title(str(c), fontsize=31, pad=14)
            if r == 9:
                last = '5' if c == 9 else '50'
                ax.set_xticklabels(['0' if c == 0 else '', last])
                ticks = ax.xaxis.get_major_ticks()
                ticks[0].label1.set_transform(ticks[0].label1.get_transform()
                                              + ScaledTranslation(-3/72, 0, fig.dpi_scale_trans))
                if c < 9:
                    ticks[1].label1.set_transform(ticks[1].label1.get_transform()
                                                  + ScaledTranslation(6/72, 0, fig.dpi_scale_trans))


def heat(grid, rng, x0, x1, cx0, cx1, ticks, fmt):
    ax = box(x0, 2172, x1, 3004)
    im = ax.imshow(grid, cmap='brg', vmin=rng[0], vmax=rng[1], aspect='auto',
                   interpolation='catrom', interpolation_stage='data',
                   extent=(-.5, 319.5, 239.5, -.5))
    style(ax)
    ax.set_xticks(range(0, 301, 50))
    ax.set_yticks(range(0, 201, 50))
    cax = box(cx0, 3182, cx1, 3241)
    cb = fig.colorbar(im, cax=cax, orientation='horizontal')
    cb.set_ticks(ticks)
    cb.set_ticklabels([fmt % t for t in ticks])
    cb.outline.set_linewidth(2)
    cax.tick_params(length=9, width=2, labelsize=27, pad=8)


def hist(counts, rng, x0, x1, ticks, yticks, fmt):
    ax = box(x0, 2173, x1, 3361)
    style(ax)
    edges = np.linspace(rng[0], rng[1], len(counts)+1)
    ax.bar(edges[:-1], counts, width=np.diff(edges), align='edge', color='green')
    span = rng[1]-rng[0]
    ax.set_xlim(rng[0]-.05*span, rng[1]+.05*span)
    ax.set_ylim(0, max(counts)*1.05)
    ax.set_xticks(ticks)
    ax.set_xticklabels([fmt % t for t in ticks])
    ax.set_yticks(yticks)


matrix(120.6, 'l', lambda r, c: (left_fit0[r][c], left_fit1[r][c]))
matrix(2222, 'r', lambda r, c: right_fits.get((r, c)))
heat(left_grid, left_range, 159.5, 1270, 118, 1312, left_hist_ticks, '%.3f')
heat(right_grid, right_range, 2262, 3372, 2221, 3413, right_hist_ticks, '%.2f')
hist(left_counts, left_range, 1381, 2153, left_hist_ticks, left_count_ticks, '%.3f')
hist(right_counts, right_range, 3486, 4248, right_hist_ticks, right_count_ticks, '%.2f')

fig.savefig('out.png', dpi=100)
